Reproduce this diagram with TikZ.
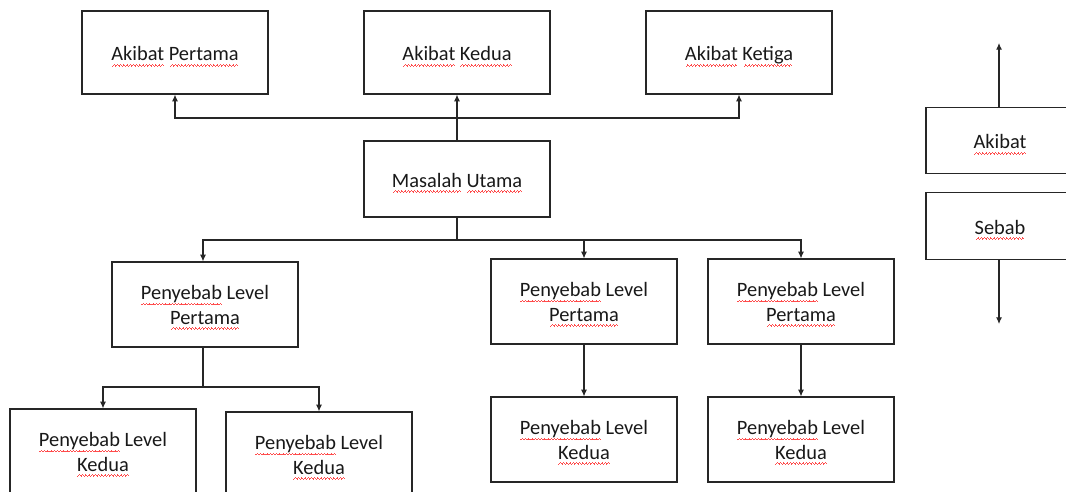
\documentclass[tikz,border=0pt]{standalone}
\usepackage{fontspec}
\setmainfont{Carlito}
\usetikzlibrary{arrows.meta}
\newsavebox\sqbox
\newcommand\wavecell{\hbox{\rule[-4.1pt]{0.6pt}{0.6pt}\rule[-3.5pt]{0.6pt}{0.6pt}\rule[-2.9pt]{0.6pt}{0.6pt}\rule[-3.5pt]{0.6pt}{0.6pt}}}
\newcommand\sq[1]{\sbox\sqbox{#1}\leavevmode\rlap{\hbox to \wd\sqbox{\color{red!70}\cleaders\wavecell\hfill}}\usebox\sqbox}
\newcommand\upstrut{\rule{0pt}{\dimexpr\fontcharht\font`l+4.5pt\relax}}
\tikzset{
  box/.style={draw=black!85, line width=0.9pt, minimum width=139.5pt, minimum height=63.75pt,
    align=center, inner sep=0pt, text=black!90,
    font=\fontsize{15.3}{18.3}\selectfont,
    execute at begin node={\rule{0pt}{\dimexpr\fontcharht\font`l+6pt\relax}}},
  link/.style={draw=black!85, line width=0.8pt},
  arr/.style={link, -{Latex[length=5pt,width=4.5pt]}}
}
\begin{document}
\begin{tikzpicture}[x=0.75pt,y=-0.75pt]
\useasboundingbox (0,0) rectangle (1066,492);
\clip (0,0) rectangle (1066,492);
\fill[white] (0,0) rectangle (1066,492);
% top row
\node[box, minimum height=62.25pt] (a1) at (175,52.5) {\sq{Akibat} \sq{Pertama}};
\node[box, minimum height=62.25pt] (a2) at (457,52.5) {\sq{Akibat} \sq{Kedua}};
\node[box, minimum height=62.25pt] (a3) at (739,52.5) {\sq{Akibat} \sq{Ketiga}};
% main problem
\node[box, minimum height=57pt] (mu) at (457,179) {\sq{Masalah} \sq{Utama}};
% first level
\node[box] (p1) at (205,304.5) {\upstrut\sq{Penyebab} Level\\\sq{Pertama}};
\node[box] (p2) at (584,301.5) {\upstrut\sq{Penyebab} Level\\\sq{Pertama}};
\node[box] (p3) at (801,301.5) {\upstrut\sq{Penyebab} Level\\\sq{Pertama}};
% second level
\node[box] (k1) at (103,451.5) {\upstrut\sq{Penyebab} Level\\\sq{Kedua}};
\node[box] (k2) at (319,454.5) {\upstrut\sq{Penyebab} Level\\\sq{Kedua}};
\node[box] (k3) at (584,439.5) {\upstrut\sq{Penyebab} Level\\\sq{Kedua}};
\node[box] (k4) at (801,439.5) {\upstrut\sq{Penyebab} Level\\\sq{Kedua}};
% legend
\node[box, minimum width=111pt, minimum height=50pt] (ak) at (1000,140.5) {\sq{Akibat}};
\node[box, minimum width=111pt, minimum height=50pt] (sb) at (1000,226) {\sq{Sebab}};
% junctions
\coordinate (jt) at (457,118);
\coordinate (jb) at (457,240);
\coordinate (jp) at (203,387);
\coordinate (up) at (999,43);
\coordinate (dn) at (999,324);
% connectors: effects
\draw[link] (mu.north) -- (jt);
\draw[arr] (jt) -- (a2.south);
\draw[arr] (jt) -| (a1.south);
\draw[arr] (jt) -| (a3.south);
% connectors: causes
\draw[link] (mu.south) -- (jb);
\draw[arr] (jb) -| (jp |- p1.north);
\draw[arr] (jb) -| (p2.north);
\draw[arr] (jb) -| (p3.north);
\draw[link] (jp |- p1.south) -- (jp);
\draw[arr] (jp) -| (k1.north);
\draw[arr] (jp) -| (k2.north);
\draw[arr] (p2.south) -- (k3.north);
\draw[arr] (p3.south) -- (k4.north);
% legend arrows
\draw[arr] (ak.north -| up) -- (up);
\draw[arr] (sb.south -| dn) -- (dn);
\end{tikzpicture}
\end{document}
